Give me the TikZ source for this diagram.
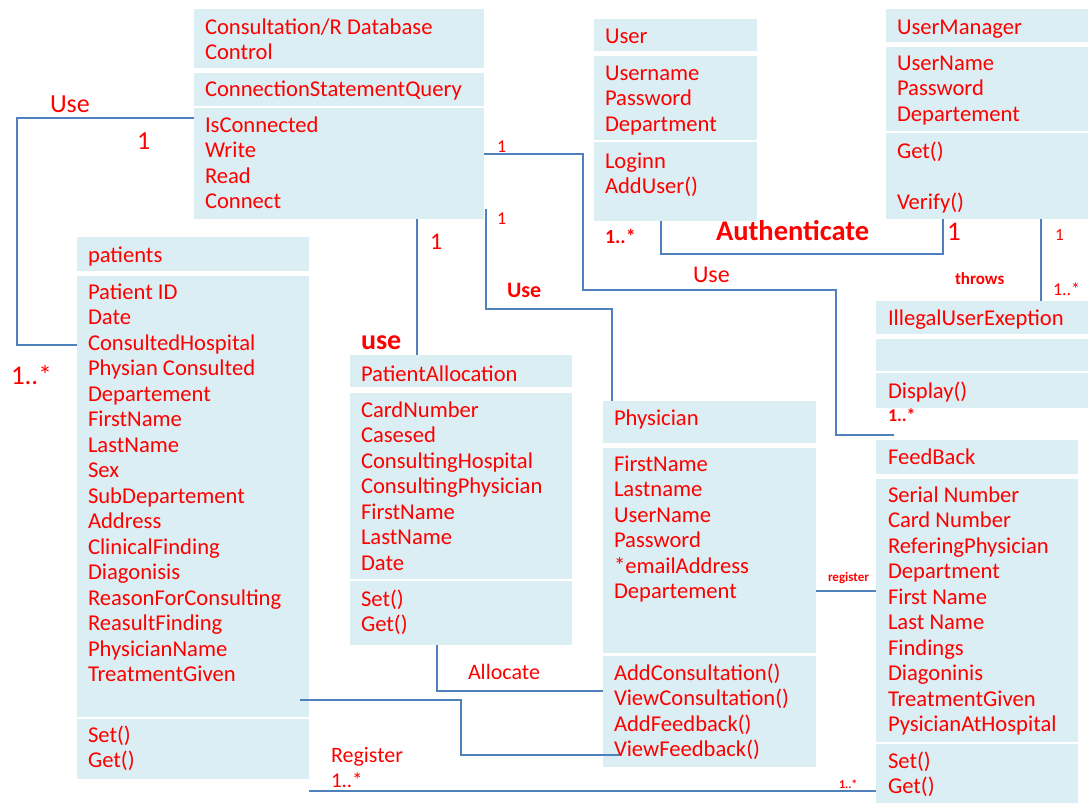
\documentclass[tikz,border=0pt]{standalone}
\usepackage{fontspec}
\setmainfont{Carlito}
\definecolor{boxfill}{HTML}{DAEEF3}
\definecolor{linkblue}{HTML}{4F81BD}
\definecolor{txtred}{HTML}{FF0000}
\tikzset{
  comp/.style={fill=boxfill, draw=none, inner sep=0pt, outer sep=0pt, anchor=north west},
  txt/.style={text=txtred, inner sep=0pt, outer sep=0pt, anchor=base west,
              font=\fontsize{22.6}{25.5}\selectfont},
  lbl/.style={text=txtred, inner sep=0pt, outer sep=0pt, anchor=base west},
  link/.style={draw=linkblue, line width=1.5pt},
}
% one compartment of a class box: name, x1, y1, x2, y2
\newcommand\compart[5]{%
  \node[comp, minimum width={#4-#2}, minimum height={#5-#3}] (#1) at (#2,#3) {};}
% the lines of a compartment: name prefix, x, first baseline, list of lines
\newcommand\classlines[4]{%
  \foreach \t [count=\i from 0] in {#4}
    \node[txt] (#1-\i) at ({#2},{#3+\i*25.5}) {\t};}
\begin{document}
\begin{tikzpicture}[x=1pt,y=-1pt]
\useasboundingbox (0,0) rectangle (1088,804);

% ---------- class boxes ----------
% database control
\compart{dbT}{194}{9}{484}{68}
\compart{dbC}{194}{73}{484}{106}
\compart{dbM}{194}{108}{484}{219}
\classlines{dbTl}{205}{34}{Consultation/R Database,Control}
\classlines{dbCl}{205}{96}{ConnectionStatementQuery}
\classlines{dbMl}{205}{132}{IsConnected,Write,Read,Connect}

% user
\compart{uT}{594}{19}{757}{51}
\compart{uA}{594}{56}{757}{140}
\compart{uM}{594}{142}{757}{221}
\classlines{uTl}{605}{43}{User}
\classlines{uAl}{605}{80}{Username,Password,Department}
\classlines{uMl}{605}{168}{Loginn,AddUser()}

% user manager
\compart{umT}{886}{9}{1088}{42}
\compart{umA}{886}{47}{1088}{131}
\compart{umM}{886}{133}{1088}{219}
\classlines{umTl}{897}{34}{UserManager}
\classlines{umAl}{897}{70}{UserName,Password,Departement}
\node[txt] (umGet) at (897,158) {Get()};
\node[txt] (umVer) at (897,209) {Verify()};

% patients
\compart{patT}{77}{237}{309}{271}
\compart{patA}{77}{276}{309}{717}
\compart{patM}{77}{719}{309}{779}
\classlines{patTl}{88}{262}{patients}
\classlines{patAl}{88}{299}{Patient ID,Date,ConsultedHospital,Physian Consulted,Departement,FirstName,LastName,Sex,SubDepartement,Address,ClinicalFinding,Diagonisis,ReasonForConsulting,ReasultFinding,PhysicianName,TreatmentGiven}
\classlines{patMl}{88}{742}{Set(),Get()}

% patient allocation
\compart{paT}{350}{355}{572}{387}
\compart{paA}{350}{393}{572}{579}
\compart{paM}{350}{581}{572}{645}
\classlines{paTl}{361}{381}{PatientAllocation}
\classlines{paAl}{361}{417}{CardNumber,Casesed,ConsultingHospital,ConsultingPhysician,FirstName,LastName,Date}
\classlines{paMl}{361}{606}{Set(),Get()}

% physician
\compart{phT}{603}{401}{816}{443}
\compart{phA}{603}{448}{816}{653}
\compart{phM}{603}{656}{816}{767}
\classlines{phTl}{614}{425}{Physician}
\classlines{phAl}{614}{471}{FirstName,Lastname,UserName,Password,*emailAddress,Departement}
\classlines{phMl}{614}{680}{AddConsultation(),ViewConsultation(),AddFeedback(),ViewFeedback()}

% illegal user exception
\compart{ilT}{876}{301}{1088}{334}
\compart{ilA}{876}{339}{1088}{371}
\compart{ilM}{876}{373}{1088}{408}
\classlines{ilTl}{888}{325}{IllegalUserExeption}
\classlines{ilMl}{888}{398}{Display()}

% feedback
\compart{fbT}{876}{440}{1078}{474}
\compart{fbA}{876}{479}{1078}{742}
\compart{fbM}{876}{744}{1078}{803}
\classlines{fbTl}{888}{464}{FeedBack}
\classlines{fbAl}{888}{502}{Serial Number,Card Number,ReferingPhysician,Department,First Name,Last Name,Findings,Diagoninis,TreatmentGiven,PysicianAtHospital}
\classlines{fbMl}{888}{768}{Set(),Get()}

% ---------- connectors ----------
% patients -- database (Use)
\coordinate (c1a) at (17,118);
\coordinate (c1b) at (17,345);
\draw[link] (dbM.west |- c1a) -- (c1a) -- (c1b) -- (patA.west |- c1b);

% database -- patient allocation (use)
\coordinate (c2) at (417,0);
\draw[link] (dbM.south -| c2) -- (paT.north -| c2);

% database -- feedback (Use)
\coordinate (c3a) at (583,154);
\coordinate (c3b) at (836,290);
\coordinate (c3c) at (894,435);
\draw[link] (dbM.east |- c3a) -- (c3a) |- (c3b) |- (c3c);

% database -- physician (Use)
\coordinate (c4a) at (486,209);
\coordinate (c4b) at (612,309);
\draw[link] (c4a) |- (c4b) -- (phT.north -| c4b);

% user -- user manager (Authenticate)
\coordinate (c5a) at (661,254);
\coordinate (c5b) at (943,254);
\draw[link] (uM.south -| c5a) -- (c5a) -- (c5b) -- (umM.south -| c5b);

% user manager -- exception (throws)
\coordinate (c6) at (1041,0);
\draw[link] (umM.south -| c6) -- (ilT.north -| c6);

% patient allocation -- physician (Allocate)
\coordinate (c7) at (437,691);
\draw[link] (paM.south -| c7) -- (c7) -- (phM.west |- c7);

% patients -- physician view feedback
\coordinate (c8a) at (300,700);
\coordinate (c8b) at (461,755);
\coordinate (c8c) at (619,755);
\draw[link] (c8a) -| (c8b) -- (c8c);

% patients -- feedback (Register)
\coordinate (c9) at (0,791);
\draw[link] (patM.east |- c9) -- (fbM.west |- c9);

% physician -- feedback (register)
\coordinate (c10) at (0,591);
\draw[link] (phA.east |- c10) -- (fbA.west |- c10);

% ---------- connector labels ----------
\node[lbl, font=\fontsize{26}{30}\selectfont] (lUse1) at (50,112) {Use};
\node[lbl, font=\fontsize{26}{30}\selectfont] (lOne1) at (137,149) {1};
\node[lbl, font=\fontsize{27}{30}\selectfont] (lMany1) at (11,384) {1..*};
\node[lbl, font=\bfseries\fontsize{28}{32}\selectfont] (lUse2) at (361,349) {use};
\node[lbl, font=\fontsize{24}{28}\selectfont] (lOne2) at (430,249) {1};
\node[lbl, font=\fontsize{18}{20}\selectfont] (lOne3) at (497,152) {1};
\node[lbl, font=\fontsize{18}{20}\selectfont] (lOne4) at (497,224) {1};
\node[lbl, font=\bfseries\fontsize{22}{26}\selectfont] (lUse4) at (507,297) {Use};
\node[lbl, font=\fontsize{24}{28}\selectfont] (lUse3) at (693,282) {Use};
\node[lbl, font=\bfseries\fontsize{20}{24}\selectfont] (lMany5) at (605,243) {1..*};
\node[lbl, font=\bfseries\fontsize{28.5}{32}\selectfont] (lAuth) at (716,240) {Authenticate};
\node[lbl, font=\fontsize{27}{30}\selectfont] (lOne5) at (947,240) {1};
\node[lbl, font=\fontsize{17}{20}\selectfont] (lOne6) at (1055,240) {1};
\node[lbl, font=\bfseries\fontsize{17}{20}\selectfont] (lThrows) at (955,284) {throws};
\node[lbl, font=\fontsize{18}{20}\selectfont] (lMany6) at (1053,295) {1..*};
\node[lbl, font=\bfseries\fontsize{18}{20}\selectfont] (lMany3) at (888,421) {1..*};
\node[lbl, font=\bfseries\fontsize{13}{15}\selectfont] (lReg2) at (828,581) {register};
\node[lbl, font=\fontsize{22}{26}\selectfont] (lAlloc) at (468,679) {Allocate};
\node[lbl, font=\fontsize{22}{26}\selectfont] (lReg) at (331,762) {Register};
\node[lbl, font=\fontsize{21}{24}\selectfont] (lMany9) at (331,787) {1..*};
\node[lbl, font=\bfseries\fontsize{12}{14}\selectfont] (lMany9b) at (839,788) {1..*};
\end{tikzpicture}
\end{document}
